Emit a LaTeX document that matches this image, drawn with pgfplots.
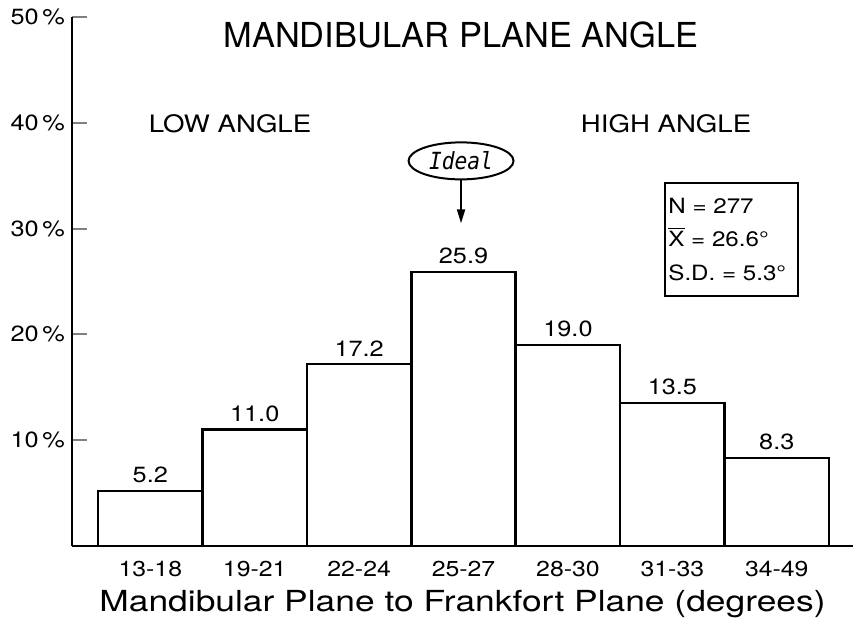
\documentclass[border=0pt]{standalone}
\usepackage{pgfplots}
\pgfplotsset{compat=1.18}
\usetikzlibrary{arrows.meta}
\usepackage{fontspec}
\setmainfont{TeX Gyre Heros}[FakeStretch=1.15]
\newfontfamily\titlefont{TeX Gyre Heros}
\newfontfamily\xlabfont{TeX Gyre Heros}[FakeStretch=1.22]
\newfontfamily\idealfont{DejaVu Sans Mono}[FakeStretch=0.9]
\pgfplotstableread{
x y
0 5.2
1 11.0
2 17.2
3 25.9
4 19.0
5 13.5
6 8.3
}\mandata
\begin{document}
\begin{tikzpicture}
\begin{axis}[
  at={(0,0)}, anchor=south west,
  scale only axis, width=390.5pt, height=264.5pt,
  xmin=-0.75, xmax=6.73, ymin=0, ymax=50,
  axis x line=bottom, axis y line=left,
  axis line style={-, line width=1pt},
  clip=false,
  ytick={10,20,30,40,50},
  yticklabels={10\,\%,20\,\%,30\,\%,40\,\%,50\,\%},
  yticklabel style={font=\fontsize{11}{13}\selectfont},
  ytick style={line width=1pt},
  tick align=inside, major tick length=7.5pt,
  xtick={0,...,6},
  xticklabels={13-18,19-21,22-24,25-27,28-30,31-33,34-49},
  xtick style={draw=none},
  xticklabel style={font=\fontsize{10.8}{12}\selectfont, anchor=base, yshift=-15.5pt},
  xlabel={Mandibular Plane to Frankfort Plane (degrees)},
  xlabel style={font=\xlabfont\fontsize{14.5}{16}\selectfont, at={(axis description cs:0.5,0)}, anchor=base, yshift=-33pt},
  /pgf/number format/.cd, fixed, fixed zerofill, precision=1, assume math mode=true,
]
\addplot[ybar, bar width=1, draw=black, fill=white, line width=1.3pt,
  nodes near coords,
  nodes near coords style={font=\fontsize{11}{13}\selectfont, black}]
  table[x=x, y=y] {\mandata};
\node[font=\titlefont\fontsize{17.2}{20}\selectfont, anchor=base] at (axis cs:2.976,47.16) {MANDIBULAR PLANE ANGLE};
\node[font=\fontsize{12}{14}\selectfont, anchor=base] at (axis cs:0.764,39.13) {LOW ANGLE};
\node[font=\fontsize{12}{14}\selectfont, anchor=base] at (axis cs:4.94,39.13) {HIGH ANGLE};
\draw[line width=1pt] (axis cs:2.976,36.4) ellipse [x radius=26.25pt, y radius=9.25pt];
\node[font=\idealfont\itshape\fontsize{11.8}{13}\selectfont] at (axis cs:2.976,36.4) {Ideal};
\draw[line width=1pt, -{Triangle[length=7pt,width=4pt]}] (axis cs:2.976,34.65) -- (axis cs:2.976,30.5);
\node[draw, line width=1pt, anchor=north west, minimum width=66.5pt, minimum height=56.5pt, inner sep=0pt] (box) at (axis cs:4.92,34.4) {};
\node[anchor=base west, inner sep=0pt, font=\fontsize{10.5}{12}\selectfont] at ([xshift=2pt,yshift=-15.5pt]box.north west) {N = 277};
\node[anchor=base west, inner sep=0pt, font=\fontsize{10.5}{12}\selectfont] at ([xshift=2pt,yshift=-32pt]box.north west) {$\overline{\mbox{X}}$ = 26.6°};
\node[anchor=base west, inner sep=0pt, font=\fontsize{10.5}{12}\selectfont] at ([xshift=2pt,yshift=-49pt]box.north west) {S.D. = 5.3°};
\end{axis}
\pgfresetboundingbox
\path[use as bounding box] (-36pt,-37.5pt) rectangle (390.5pt,273pt);
\end{tikzpicture}
\end{document}
